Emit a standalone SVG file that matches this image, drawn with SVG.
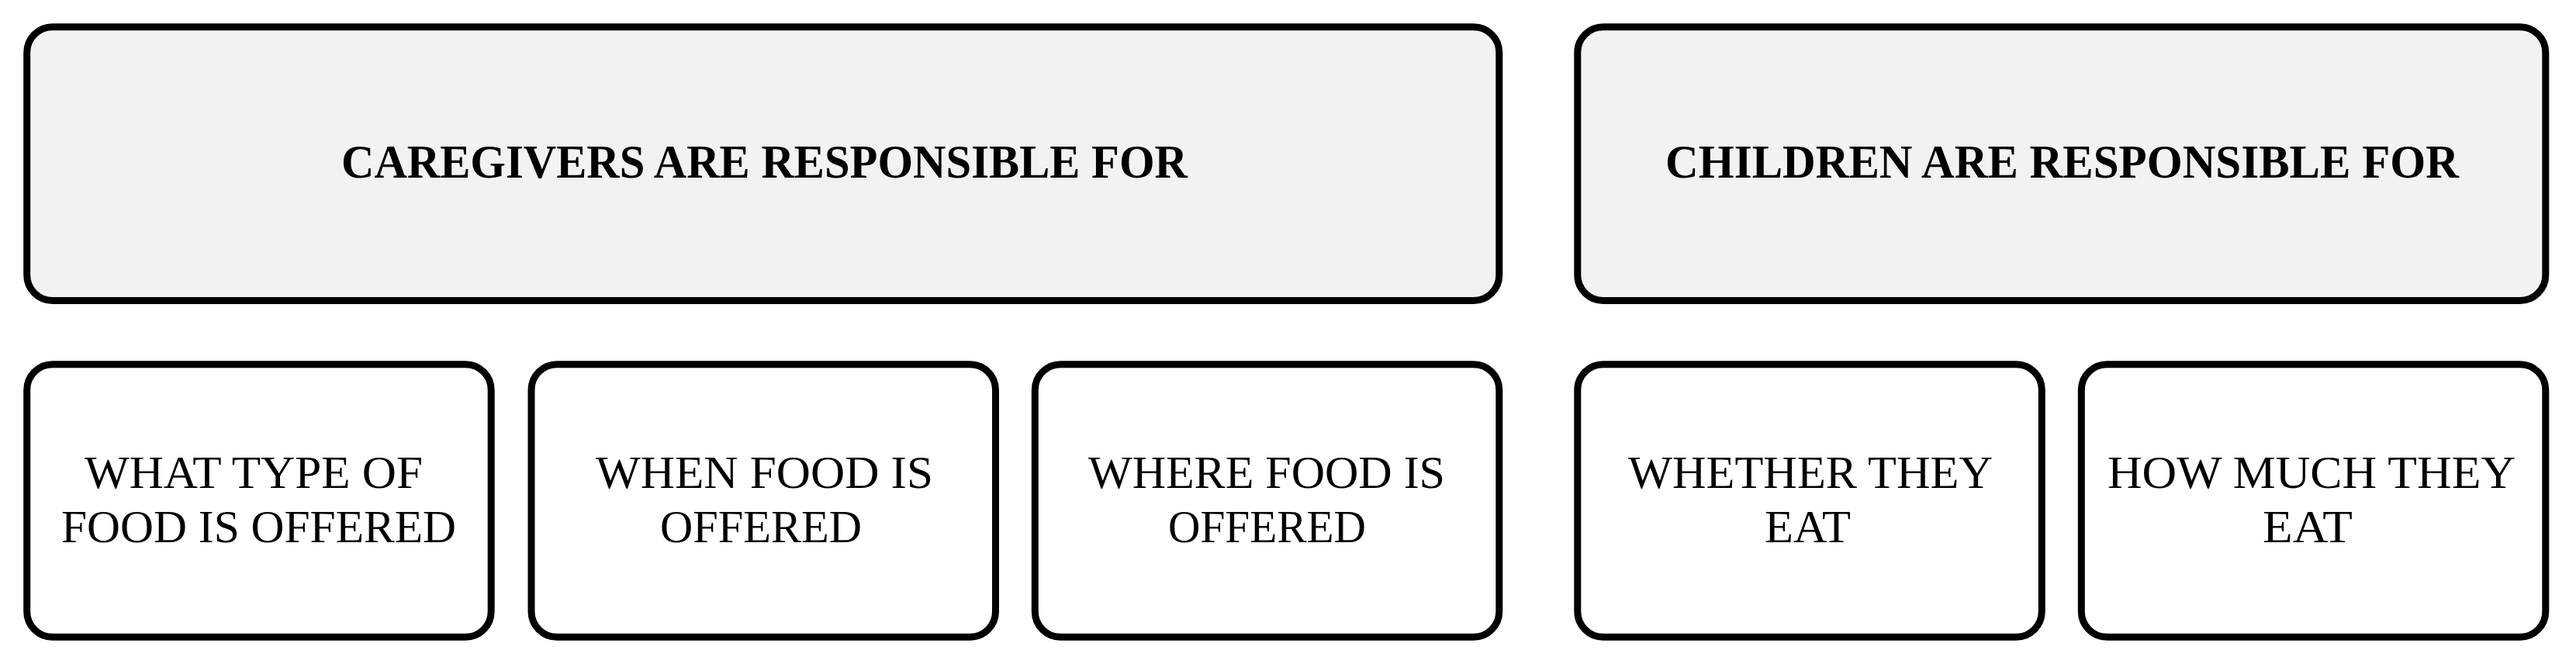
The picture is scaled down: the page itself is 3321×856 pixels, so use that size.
<svg xmlns="http://www.w3.org/2000/svg" width="3321" height="856" viewBox="0 0 3321 856">
  <style>
    .box { stroke: #000; stroke-width: 9; }
    .head { fill: #f2f2f2; }
    .item { fill: #ffffff; }
    .ht { font-family: "Liberation Serif", "Times New Roman", serif; font-weight: bold; font-size: 62px; fill: #000; text-anchor: middle; }
    .it { font-family: "Liberation Serif", "Times New Roman", serif; font-size: 60px; fill: #000; text-anchor: middle; }
  </style>
  <rect x="0" y="0" width="3321" height="856" fill="#ffffff"/>
  <g id="connectors"></g>
  <g id="caregivers">
    <rect class="box head" x="34.7" y="34.7" width="1898.1" height="352.8" rx="33" ry="33"/>
    <text class="ht" x="985.5" y="229" textLength="1091" lengthAdjust="spacingAndGlyphs">CAREGIVERS ARE RESPONSIBLE FOR</text>
  </g>
  <g id="children">
    <rect class="box head" x="2033.8" y="34.7" width="1248" height="352.8" rx="33" ry="33"/>
    <text class="ht" x="2658.5" y="229" textLength="1023" lengthAdjust="spacingAndGlyphs">CHILDREN ARE RESPONSIBLE FOR</text>
  </g>
  <g id="what-type">
    <rect class="box item" x="34.7" y="469.7" width="598.5" height="351.6" rx="33" ry="33"/>
    <text class="it" x="327" y="629" textLength="436" lengthAdjust="spacingAndGlyphs">WHAT TYPE OF</text>
    <text class="it" x="333.5" y="699" textLength="509" lengthAdjust="spacingAndGlyphs">FOOD IS OFFERED</text>
  </g>
  <g id="when-food">
    <rect class="box item" x="685" y="469.7" width="598.5" height="351.6" rx="33" ry="33"/>
    <text class="it" x="985.5" y="629" textLength="435" lengthAdjust="spacingAndGlyphs">WHEN FOOD IS</text>
    <text class="it" x="981" y="699" textLength="260" lengthAdjust="spacingAndGlyphs">OFFERED</text>
  </g>
  <g id="where-food">
    <rect class="box item" x="1334.3" y="469.7" width="598.5" height="351.6" rx="33" ry="33"/>
    <text class="it" x="1633" y="629" textLength="460" lengthAdjust="spacingAndGlyphs">WHERE FOOD IS</text>
    <text class="it" x="1633.5" y="699" textLength="255" lengthAdjust="spacingAndGlyphs">OFFERED</text>
  </g>
  <g id="whether-eat">
    <rect class="box item" x="2033.8" y="469.7" width="598.5" height="351.6" rx="33" ry="33"/>
    <text class="it" x="2334" y="629" textLength="470" lengthAdjust="spacingAndGlyphs">WHETHER THEY</text>
    <text class="it" x="2330.5" y="699" textLength="111" lengthAdjust="spacingAndGlyphs">EAT</text>
  </g>
  <g id="how-much">
    <rect class="box item" x="2683.3" y="469.7" width="598.5" height="351.6" rx="33" ry="33"/>
    <text class="it" x="2980" y="629" textLength="526" lengthAdjust="spacingAndGlyphs">HOW MUCH THEY</text>
    <text class="it" x="2975" y="699" textLength="116" lengthAdjust="spacingAndGlyphs">EAT</text>
  </g>
</svg>
